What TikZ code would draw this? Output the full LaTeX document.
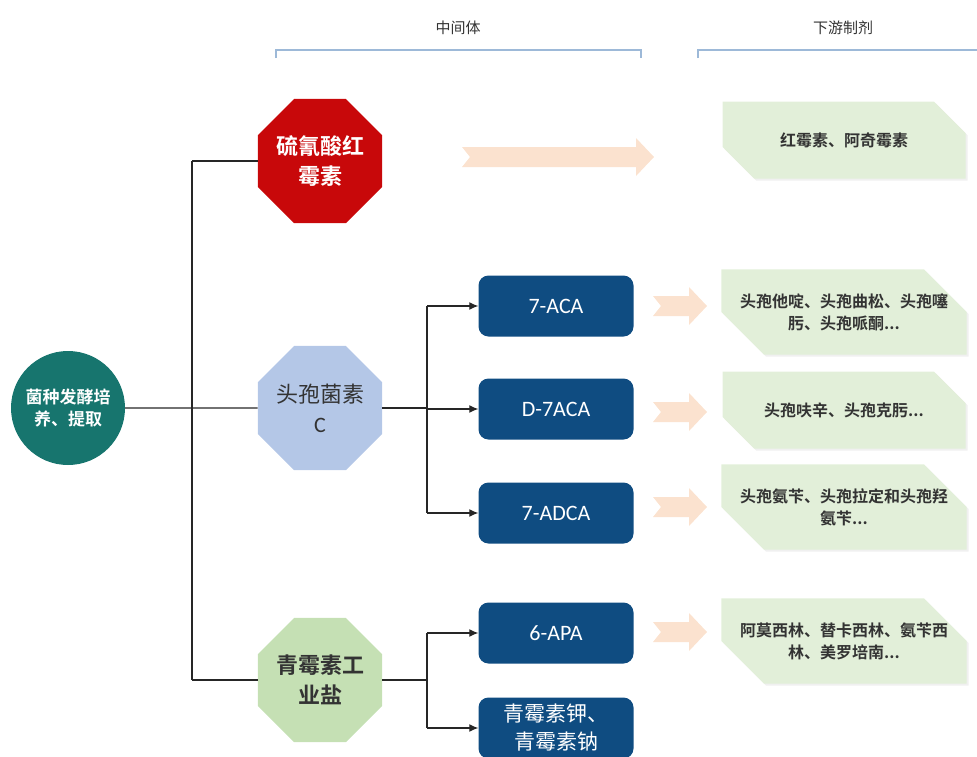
\documentclass[tikz,border=0pt]{standalone}
\usepackage{fontspec}
\setmainfont{Noto Sans CJK SC}[BoldFont={Noto Sans CJK SC Bold}]
\newfontfamily\latinfont{Carlito}
\usepackage{tikz}
\usetikzlibrary{shapes.geometric,shapes.misc,arrows.meta,shadows,positioning}
\definecolor{tealc}{HTML}{17756E}
\definecolor{redc}{HTML}{C8080A}
\definecolor{bluec}{HTML}{B4C7E7}
\definecolor{greenc}{HTML}{C5E0B4}
\definecolor{navyc}{HTML}{0F4C81}
\definecolor{mintc}{HTML}{E2EFD9}
\definecolor{peachc}{HTML}{FBE2CF}
\definecolor{bracketc}{HTML}{9DB9D8}
\definecolor{textc}{HTML}{333333}
\tikzset{
  octa/.style={regular polygon, regular polygon sides=8, minimum size=116pt, inner sep=0pt,
    align=center, font=\fontsize{22}{30}\selectfont},
  octabold/.style={octa, font=\bfseries\fontsize{22}{30}\selectfont},
  midbox/.style={rounded corners=10pt, fill=navyc, text=white, minimum width=155pt,
    minimum height=61pt, align=center, font=\latinfont\fontsize{22}{26}\selectfont},
  drugbox/.style={chamfered rectangle, chamfered rectangle corners={north east, south west},
    chamfered rectangle xsep=24pt, chamfered rectangle ysep=24pt, fill=mintc,
    minimum width=243pt, minimum height=77pt, inner sep=0pt, align=center, text=textc,
    font=\bfseries\fontsize{16}{22}\selectfont,
    drop shadow={shadow xshift=2pt, shadow yshift=-2pt, opacity=0.12}},
  link/.style={draw=black!85, line width=1.2pt},
  arr/.style={link, -{Latex[length=9pt,width=8pt]}},
  bracket/.style={draw=bracketc, line width=1.2pt},
  heading/.style={text=textc, font=\fontsize{15}{18}\selectfont},
  peacharrow/.pic={\fill[peachc] (-#1,-10) -- (#1-18,-10) -- (#1-18,-19) -- (#1,0)
    -- (#1-18,19) -- (#1-18,10) -- (-#1,10) -- (-#1+8,0) -- cycle;}
}
\begin{document}
\begin{tikzpicture}[x=1pt,y=-1pt]
  \useasboundingbox (0,0) rectangle (977,756);

  \node[heading] (hmid) at (458,28) {中间体};
  \node[heading] (hdown) at (843,28) {下游制剂};
  \draw[bracket] (276,58) -- (276,50) -- (641,50) -- (641,58);
  \draw[bracket] (698,58) -- (698,50) -- (977,50);

  \node[circle, fill=tealc, text=white, minimum size=114pt, align=center,
    font=\bfseries\fontsize{17}{22}\selectfont] (src) at (68,408) {菌种发酵培\\养、提取};

  \node[octabold, fill=redc, text=white] (hong) at (320,161) {硫氰酸红\\霉素};
  \node[octa, fill=bluec, text=textc] (toubao) at (320,408) {头孢菌素\\{\latinfont C}};
  \node[octabold, fill=greenc, text=textc] (qing) at (320,680) {青霉素工\\业盐};

  \node[midbox] (aca) at (556,306) {7-ACA};
  \node[midbox] (daca) at (556,409) {D-7ACA};
  \node[midbox] (adca) at (556,513) {7-ADCA};
  \node[midbox] (apa) at (556,633) {6-APA};
  \node[midbox, font=\fontsize{21}{28}\selectfont] (kna) at (556,728) {青霉素钾、\\青霉素钠};

  \coordinate (j1) at (192,0);
  \coordinate (j2) at (427,0);

  \draw[link] (src.east) -- (toubao.west);
  \draw[link] (hong.west -| j1) -- (qing.west -| j1);
  \draw[link] (hong.west) -- (hong.west -| j1);
  \draw[link] (qing.west) -- (qing.west -| j1);

  \draw[link] (toubao.east) -- (toubao.east -| j2);
  \draw[link] (aca.west -| j2) -- (adca.west -| j2);
  \draw[arr] (aca.west -| j2) -- (aca.west);
  \draw[arr] (daca.west -| j2) -- (daca.west);
  \draw[arr] (adca.west -| j2) -- (adca.west);

  \draw[link] (qing.east) -- (qing.east -| j2);
  \draw[link] (apa.west -| j2) -- (kna.west -| j2);
  \draw[arr] (apa.west -| j2) -- (apa.west);
  \draw[arr] (kna.west -| j2) -- (kna.west);

  \pic (pa0) at (558,157) {peacharrow=96};
  \pic (pa1) at (680,306) {peacharrow=27};
  \pic (pa2) at (680,412) {peacharrow=27};
  \pic (pa3) at (680,507) {peacharrow=27};
  \pic (pa4) at (680,632) {peacharrow=27};

  \node[drugbox] (d1) at (844,140) {红霉素、阿奇霉素};
  \node[drugbox] (d2) at (844,312) {头孢他啶、头孢曲松、头孢噻\\肟、头孢哌酮...};
  \node[drugbox] (d3) at (844,410) {头孢呋辛、头孢克肟...};
  \node[drugbox] (d4) at (844,507) {头孢氨苄、头孢拉定和头孢羟\\氨苄...};
  \node[drugbox] (d5) at (844,641) {阿莫西林、替卡西林、氨苄西\\林、美罗培南...};
\end{tikzpicture}
\end{document}
